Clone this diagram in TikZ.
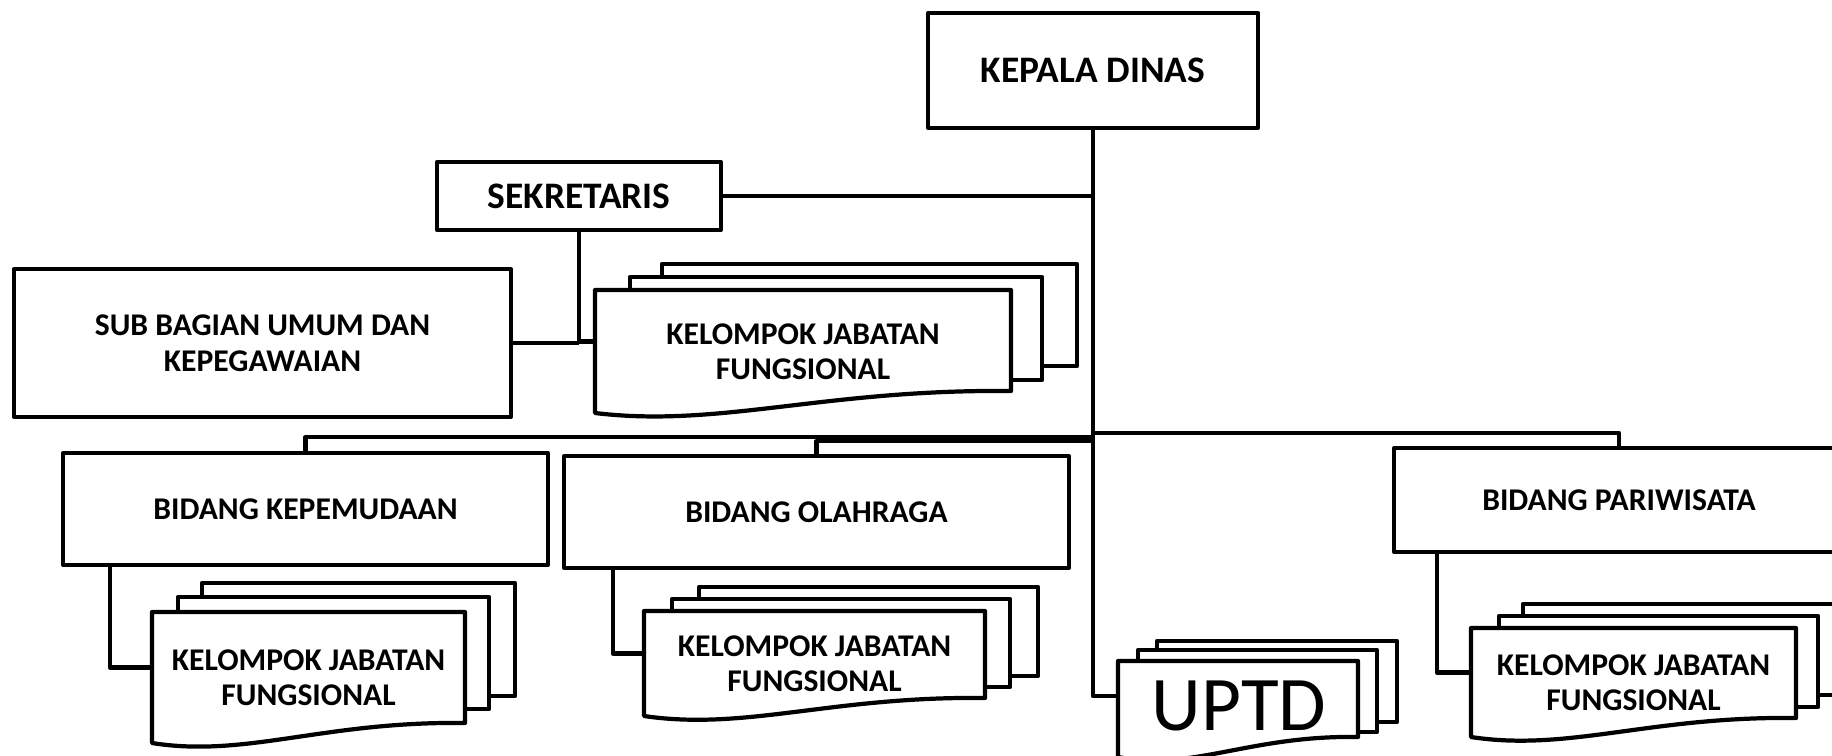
\documentclass[tikz,border=0pt]{standalone}
\usepackage{fontspec}
\setmainfont{Carlito}

\tikzset{
  unit/.style = {draw, fill = white, line width = 2.4pt, line join = round, align = center,
    font = \bfseries\fontsize{18}{20.5}\selectfont},
  head/.style = {font = \bfseries\fontsize{21.3}{24}\selectfont},
  sheet/.style = {draw, fill = white, line width = 2.4pt, line join = round},
  doctext/.style = {align = center, inner sep = 0pt, font = \bfseries\fontsize{18}{19.8}\selectfont},
  conn/.style = {line width = 2.4pt, line join = round},
}

\begin{document}
\begin{tikzpicture}[x = 0.02cm, y = -0.02cm]
  \useasboundingbox (0,0) rectangle (1832,755);

  % boxes
  \node[unit, head, minimum width = 6.6cm, minimum height = 2.3cm] (kadis) at (1093,70.5) {KEPALA DINAS};
  \node[unit, head, minimum width = 5.68cm, minimum height = 1.36cm] (sekre) at (579,196) {SEKRETARIS};
  \node[unit, minimum width = 9.94cm, minimum height = 2.96cm] (subbag) at (262.5,343) {SUB BAGIAN UMUM DAN\\KEPEGAWAIAN};
  \node[unit, minimum width = 9.7cm, minimum height = 2.24cm] (bkp) at (305.5,509) {BIDANG KEPEMUDAAN};
  \node[unit, minimum width = 10.1cm, minimum height = 2.24cm] (bor) at (816.5,512) {BIDANG OLAHRAGA};
  \node[unit, minimum width = 9cm, minimum height = 2.08cm] (bpar) at (1619,500) {BIDANG PARIWISATA};

  % stacked documents
  \draw[sheet] (662,264) rectangle (1077,366);
  \draw[sheet] (630,277) rectangle (1042,380);
  \draw[sheet] (595,290) -- (1011,290) -- (1011,391) .. controls (824,389) and (720,428) .. (595,413) -- cycle;
  \node[doctext, minimum width = 8.32cm, minimum height = 2.46cm] (kjfsek) at (803,351.5) {KELOMPOK JABATAN\\FUNGSIONAL};

  \draw[sheet] (202,583) rectangle (515,696);
  \draw[sheet] (178,597) rectangle (489,709);
  \draw[sheet] (152,612) -- (465,612) -- (465,723) .. controls (324,721) and (246,758) .. (152,743) -- cycle;
  \node[doctext, minimum width = 6.26cm, minimum height = 2.62cm] (kjfkp) at (308.5,677.5) {KELOMPOK JABATAN\\FUNGSIONAL};

  \draw[sheet] (699,587) rectangle (1038,676);
  \draw[sheet] (672,599) rectangle (1010,687);
  \draw[sheet] (644,611) -- (985,611) -- (985,698) .. controls (832,696) and (746,731) .. (644,716) -- cycle;
  \node[doctext, minimum width = 6.82cm, minimum height = 2.1cm] (kjfor) at (814.5,663.5) {KELOMPOK JABATAN\\FUNGSIONAL};

  \draw[sheet] (1157,641) rectangle (1397,722);
  \draw[sheet] (1138,650) rectangle (1377,732);
  \draw[sheet] (1118,661) -- (1358,661) -- (1358,737) .. controls (1250,735) and (1190,772) .. (1118,757) -- cycle;
  \node[doctext, font = \fontsize{44}{46}\selectfont, minimum width = 4.8cm, minimum height = 1.92cm] (uptd) at (1239,706) {UPTD};

  \draw[sheet] (1523,604) rectangle (1844,695);
  \draw[sheet] (1499,616) rectangle (1818,707);
  \draw[sheet] (1471,628) -- (1796,628) -- (1796,718) .. controls (1650,716) and (1569,752) .. (1471,737) -- cycle;
  \node[doctext, minimum width = 6.5cm, minimum height = 2.18cm] (kjfpar) at (1633.5,682.5) {KELOMPOK JABATAN\\FUNGSIONAL};

  % lines
  \draw[conn] (kadis.south) |- ([yshift = 0.2cm]uptd.west);
  \draw[conn] (sekre.east) -- (sekre.east -| kadis.south);
  \draw[conn] (sekre.south) |- ([yshift = 0.2cm]kjfsek.west);
  \draw[conn] (subbag.east) -- (subbag.east -| sekre.south);
  \draw[conn] (bkp.north) |- (kadis.south |- 0,437);
  \draw[conn] (bor.north) |- (kadis.south |- 0,441);
  \draw[conn] (bpar.north) |- (kadis.south |- 0,433);
  \draw[conn] (bkp.south west) ++(49,0) |- ([yshift = 0.2cm]kjfkp.west);
  \draw[conn] (bor.south west) ++(51,0) |- ([yshift = 0.2cm]kjfor.west);
  \draw[conn] (bpar.south west) ++(45,0) |- ([yshift = 0.2cm]kjfpar.west);
\end{tikzpicture}
\end{document}
